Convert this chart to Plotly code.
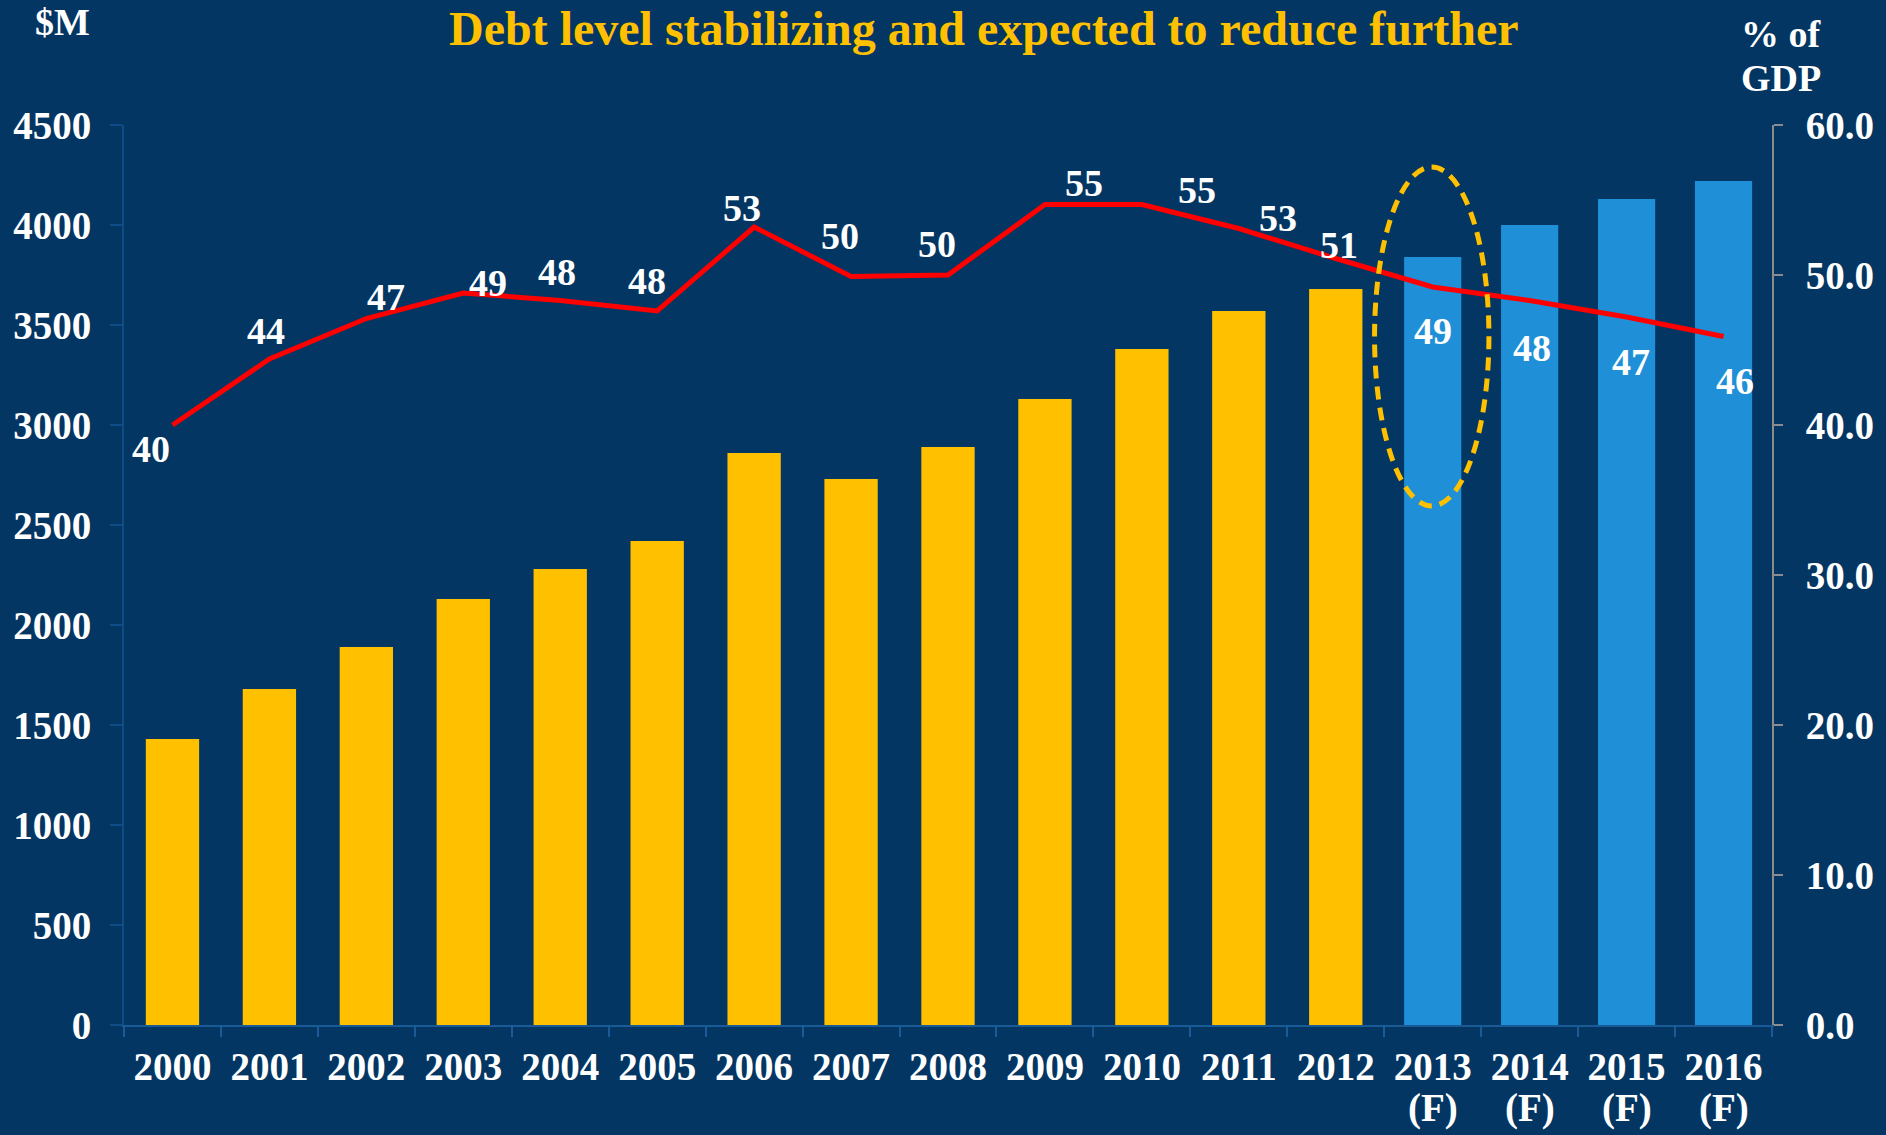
import plotly.graph_objects as go

# Debt stock ($M) and debt-to-GDP ratio (%), 2013-2016 are forecasts
years_actual = ["2000", "2001", "2002", "2003", "2004", "2005", "2006",
                "2007", "2008", "2009", "2010", "2011", "2012"]
years_forecast = ["2013", "2014", "2015", "2016"]
years = years_actual + years_forecast
forecast_mark = "(F)"

debt_actual = [1430, 1680, 1890, 2130, 2280, 2420, 2860,
               2730, 2890, 3130, 3380, 3570, 3680]
debt_forecast = [3840, 4000, 4130, 4220]

debt_pct_gdp = [40.0, 44.4, 47.1, 48.8, 48.3, 47.6, 53.2, 49.9, 50.0,
                54.7, 54.7, 53.1, 51.1, 49.2, 48.3, 47.2, 45.9]

# pixel nudges for the ratio labels (dx, dy)
label_shift = [(-21, -24), (-3, 28), (20, 22), (25, 10), (-3, 29), (-10, 30),
               (-12, 19), (-11, 41), (-11, 31), (39, 22), (55, 15), (39, 11),
               (3, 14), (0, -44), (2, -47), (4, -45), (11, -44)]

BG = "#033662"
GOLD = "#FFC000"
BLUE = "#1F8FD8"
FONT = "Liberation Serif"

fig = go.Figure()
fig.add_trace(go.Bar(x=years_actual, y=debt_actual, marker_color=GOLD,
                     width=0.55, marker_line_width=0, showlegend=False))
fig.add_trace(go.Bar(x=years_forecast, y=debt_forecast, marker_color=BLUE,
                     width=0.59, marker_line_width=0, showlegend=False))
fig.add_trace(go.Scatter(x=years, y=debt_pct_gdp, yaxis="y2", mode="lines",
                         line=dict(color="#FF0000", width=5), showlegend=False))

white_bold = dict(family=FONT, size=38, color="white", weight="bold")
tick_font = dict(family=FONT, size=39, color="white", weight="bold")

annotations = []
for i, (v, (dx, dy)) in enumerate(zip(debt_pct_gdp, label_shift)):
    # category index as x position
    annotations.append(dict(x=i, y=v, xref="x", yref="y2", text=f"{v:.0f}",
                            showarrow=False, xshift=dx, yshift=dy,
                            xanchor="center", yanchor="middle", font=white_bold))

# "(F)" line under each forecast year label
for yr in years_forecast:
    annotations.append(dict(x=years.index(yr), y=-0.0925, xref="x", yref="paper",
                            text=forecast_mark, showarrow=False,
                            xanchor="center", yanchor="middle", font=tick_font))

annotations += [
    dict(x=0.5218, y=1.1067, xref="paper", yref="paper",
         text="Debt level stabilizing and expected to reduce further",
         showarrow=False, xanchor="center", yanchor="middle",
         font=dict(family=FONT, size=48, color=GOLD, weight="bold")),
    dict(x=-0.0376, y=1.1144, xref="paper", yref="paper", text="$M",
         showarrow=False, xanchor="center", yanchor="middle", font=white_bold),
    dict(x=1.0055, y=1.101, xref="paper", yref="paper", text="% of",
         showarrow=False, xanchor="center", yanchor="middle", font=white_bold),
    dict(x=1.0055, y=1.052, xref="paper", yref="paper", text="GDP",
         showarrow=False, xanchor="center", yanchor="middle", font=white_bold),
]

fig.update_layout(
    width=1886, height=1135,
    margin=dict(l=124, r=114, t=125, b=110),
    paper_bgcolor=BG, plot_bgcolor=BG,
    barmode="overlay",
    showlegend=False,
    annotations=annotations,
    shapes=[dict(type="circle", xref="x", yref="y",
                 x0=12.40, x1=13.58, y0=2595, y1=4290,
                 line=dict(color=GOLD, width=5, dash="13px,8px"), layer="above")],
    xaxis=dict(type="category", categoryorder="array", categoryarray=years,
               range=[-0.5, 16.5],
               showline=True, linecolor="#1A5A96", linewidth=2,
               ticks="outside", tickson="boundaries", ticklen=10,
               tickcolor="#1A5A96", tickwidth=2, showgrid=False,
               tickfont=tick_font, ticklabelstandoff=6, automargin=False),
    yaxis=dict(range=[0, 4500], dtick=500, showgrid=False, zeroline=False,
               showline=True, linecolor="#0F4C86", linewidth=2,
               ticks="outside", ticklen=12, tickcolor="#0F4C86", tickwidth=2,
               tickfont=tick_font, ticklabelstandoff=11, automargin=False),
    yaxis2=dict(range=[0, 60], dtick=10, tickformat=".1f", overlaying="y",
                side="right", showgrid=False, zeroline=False,
                showline=True, linecolor="#8C8C8C", linewidth=2,
                ticks="outside", ticklen=9, tickcolor="#8C8C8C", tickwidth=2,
                tickfont=tick_font, ticklabelstandoff=15, automargin=False),
)

fig.write_html("out.html")
